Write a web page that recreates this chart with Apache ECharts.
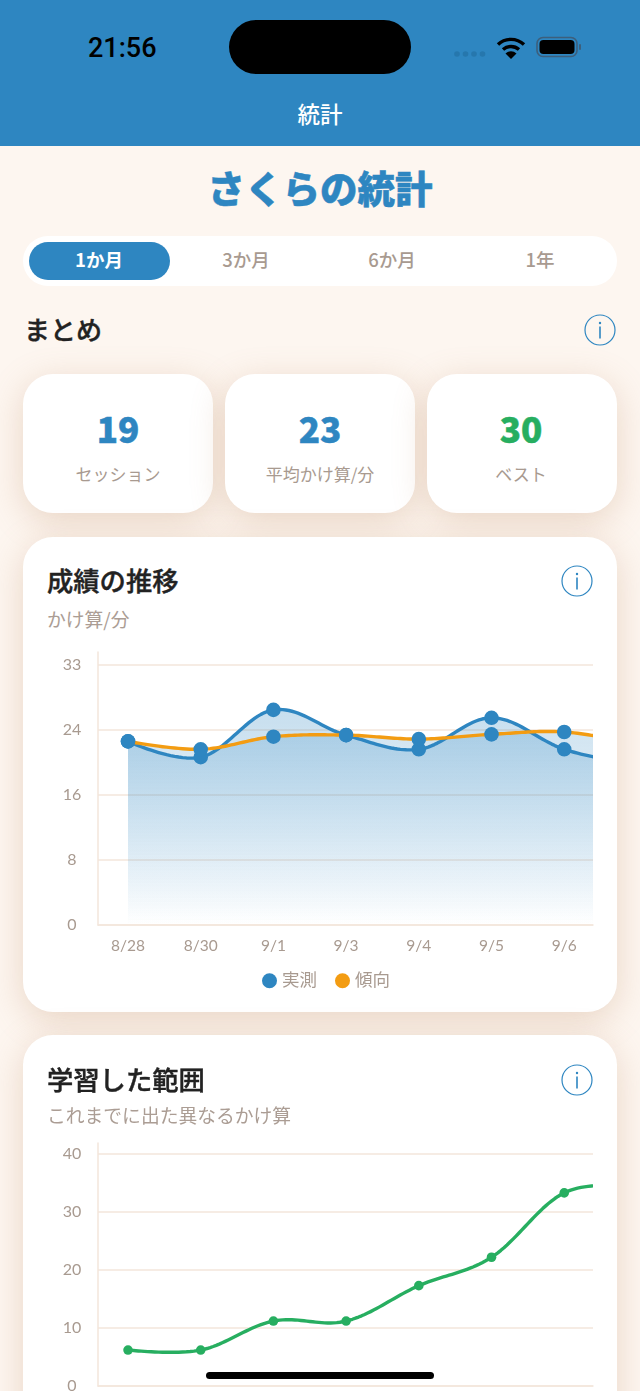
<!DOCTYPE html>
<html lang="ja">
<head>
<meta charset="utf-8">
<title>統計</title>
<script src="https://cdn.jsdelivr.net/npm/echarts@6/dist/echarts.min.js"></script>
<style>
  * { box-sizing: border-box; }
  html, body { margin: 0; padding: 0; }
  body { width: 640px; height: 1391px; overflow: hidden; position: relative; background: #fdf6f0;
    font-family: "Noto Sans CJK JP", sans-serif; color: #222; }
  .abs { position: absolute; white-space: nowrap; }
  .center { transform: translateX(-50%); }
  .header { left: 0; top: 0; width: 640px; height: 146px; background: #2e86c1; }
  .island { left: 229px; top: 20px; width: 182px; height: 54px; border-radius: 27px; background: #000; }
  .time { left: 88px; top: 31px; font: 500 27px/34px Roboto, sans-serif; color: #000; }
  .nav { left: 320px; top: 97px; font-size: 22.5px; line-height: 32px; font-weight: 500; color: #fff; }
  .title { left: 320px; top: 160px; font-size: 37.5px; line-height: 54px; font-weight: 900; color: #2e86c1; -webkit-text-stroke: .5px #2e86c1; }
  .tabs { left: 23px; top: 236px; width: 594px; height: 50px; border-radius: 25px; background: #fff; }
  .tab-on { left: 29px; top: 242px; width: 141px; height: 38px; border-radius: 19px; background: #2e86c1; }
  .tab { top: 246px; font-size: 18.5px; line-height: 26px; font-weight: 500; color: #a89a90; }
  .section { left: 24px; top: 310px; font-size: 26px; line-height: 38px; font-weight: 500; -webkit-text-stroke: .4px #222; }
  .card { background: #fff; border-radius: 30px; box-shadow: 0 8px 34px rgba(190, 140, 100, .3); }
  .num { top: 405px; font: 900 35px/46px "Noto Sans CJK JP", sans-serif; -webkit-text-stroke: .5px currentColor; }
  .lab { top: 461px; font-size: 17px; line-height: 26px; color: #a89a90; }
  .card-title { left: 47px; font-size: 26.3px; line-height: 38px; font-weight: 500; -webkit-text-stroke: .4px #222; }
  .card-sub { left: 47px; font-size: 18.8px; line-height: 28px; font-weight: 400; color: #ab9d94; }
  .chart { left: 0; width: 640px; }
  .home { left: 206px; top: 1372px; width: 228px; height: 7px; border-radius: 4px; background: #000; }
</style>
</head>
<body>
<div class="abs header"></div>
<div class="abs island"></div>
<div class="abs time">21:56</div>
<svg class="abs" style="left:450px;top:34px" width="135" height="28" viewBox="0 0 135 28">
  <g fill="#2677ad"><circle cx="7" cy="20" r="2.8"/><circle cx="15.5" cy="20" r="2.8"/><circle cx="24" cy="20" r="2.8"/><circle cx="32.5" cy="20" r="2.8"/></g>
  <g fill="none" stroke="#000" stroke-width="3.4"><path d="M48 10.5a19 19 0 0 1 26 0"/><path d="M53 15.5a12 12 0 0 1 16 0"/></g>
  <path d="M55.5 19.5a8 8 0 0 1 11 0L61 25z" fill="#000"/>
  <rect x="87" y="3.5" width="40" height="19" rx="6" fill="none" stroke="#3d5f7c" stroke-width="1.6"/>
  <rect x="89.5" y="6" width="35" height="14" rx="4" fill="#000"/>
  <rect x="129" y="10" width="2" height="6" rx="1" fill="#3d5f7c"/>
</svg>
<div class="abs nav center">統計</div>
<div class="abs title center">さくらの統計</div>

<div class="abs tabs"></div>
<div class="abs tab-on"></div>
<div class="abs tab center" style="left:99px;color:#fff;font-weight:700">1か月</div>
<div class="abs tab center" style="left:246px">3か月</div>
<div class="abs tab center" style="left:392px">6か月</div>
<div class="abs tab center" style="left:540px">1年</div>

<div class="abs section">まとめ</div>
<svg class="abs info" style="left:584px;top:314px" width="32" height="32" viewBox="0 0 32 32"><circle cx="16" cy="16" r="15" fill="none" stroke="#2e86c1" stroke-width="1.2"/><circle cx="16" cy="9" r="1.2" fill="#2e86c1"/><rect x="15.2" y="12.5" width="1.6" height="12" fill="#2e86c1"/></svg>

<div class="abs card" style="left:23px;top:374px;width:190px;height:139px"></div>
<div class="abs card" style="left:225px;top:374px;width:190px;height:139px"></div>
<div class="abs card" style="left:427px;top:374px;width:190px;height:139px"></div>
<div class="abs num center" style="left:118px;color:#2e86c1">19</div>
<div class="abs num center" style="left:320px;color:#2e86c1">23</div>
<div class="abs num center" style="left:521px;color:#27ae60">30</div>
<div class="abs lab center" style="left:118px">セッション</div>
<div class="abs lab center" style="left:320px">平均かけ算/分</div>
<div class="abs lab center" style="left:521px">ベスト</div>

<div class="abs card" style="left:23px;top:537px;width:594px;height:475px"></div>
<div class="abs card-title" style="top:561px">成績の推移</div>
<svg class="abs info" style="left:561px;top:565px" width="32" height="32" viewBox="0 0 32 32"><circle cx="16" cy="16" r="15" fill="none" stroke="#2e86c1" stroke-width="1.2"/><circle cx="16" cy="9" r="1.2" fill="#2e86c1"/><rect x="15.2" y="12.5" width="1.6" height="12" fill="#2e86c1"/></svg>
<div class="abs card-sub" style="top:605px">かけ算/分</div>
<div class="abs chart" id="scoreChart" style="top:640px;height:360px"></div>

<div class="abs card" style="left:23px;top:1035px;width:594px;height:420px"></div>
<div class="abs card-title" style="top:1060px">学習した範囲</div>
<svg class="abs info" style="left:561px;top:1064px" width="32" height="32" viewBox="0 0 32 32"><circle cx="16" cy="16" r="15" fill="none" stroke="#2e86c1" stroke-width="1.2"/><circle cx="16" cy="9" r="1.2" fill="#2e86c1"/><rect x="15.2" y="12.5" width="1.6" height="12" fill="#2e86c1"/></svg>
<div class="abs card-sub" style="top:1101px">これまでに出た異なるかけ算</div>
<div class="abs chart" id="rangeChart" style="top:1130px;height:261px"></div>
<div class="abs home"></div>

<script>
const dates = ["8/28", "8/30", "9/1", "9/3", "9/4", "9/5", "9/6"];
// the last point of each series sits just past the clipped right edge
const actual = [23.3, 21.3, 27.3, 24.1, 22.3, 26.3, 22.3, 20.3];
const trend = [23.3, 22.3, 23.9, 24.1, 23.6, 24.2, 24.5, 23.0];
const covered = [6.2, 6.2, 11.2, 11.2, 17.3, 22.2, 33.3, 34.4];
const scoreTicks = [0, 8.25, 16.5, 24.75, 33];
const rangeTicks = [0, 10, 20, 30, 40];

const BLUE = "#2e86c1";
const ORANGE = "#f39c12";
const GREEN = "#27ae60";
const AXIS = "#f3e6db";
const MUTED = "#a89a90";
const FONT = "Lato, 'Noto Sans CJK JP', sans-serif";
const TENSION = 0.175;
const STEPS = 24;

const toPoints = values => values.map((v, i) => [i, v]);

// echarts' own smooth clamps overshoot, the original curve does not
function curve(pts) {
  const out = [pts[0]];
  let cp1 = pts[0];
  for (let i = 1; i < pts.length; i++) {
    const p0 = pts[i - 1];
    const p1 = pts[i];
    const next = pts[Math.min(i + 1, pts.length - 1)];
    const tx = (next[0] - p0[0]) * TENSION;
    const ty = (next[1] - p0[1]) * TENSION;
    const cp2 = [p1[0] - tx, p1[1] - ty];
    for (let s = 1; s <= STEPS; s++) {
      const t = s / STEPS;
      const u = 1 - t;
      out.push([
        u * u * u * p0[0] + 3 * u * u * t * cp1[0] + 3 * u * t * t * cp2[0] + t * t * t * p1[0],
        u * u * u * p0[1] + 3 * u * u * t * cp1[1] + 3 * u * t * t * cp2[1] + t * t * t * p1[1]
      ]);
    }
    cp1 = [p1[0] + tx, p1[1] + ty];
  }
  return out;
}

function lineSeries(name, values, cfg) {
  return {
    name: name,
    type: "custom",
    data: toPoints(values),
    encode: { x: 0, y: 1 },
    itemStyle: { color: cfg.dot },
    renderItem(params, api) {
      // whole line is drawn once, from the first item
      if (params.dataIndex !== 0) return null;
      const pts = values.map((v, i) => api.coord([i, v]));
      const line = curve(pts);
      const box = params.coordSys;
      const children = [];
      if (cfg.fill) {
        const base = api.coord([0, 0])[1];
        children.push({
          type: "polygon",
          shape: { points: line.concat([[pts[pts.length - 1][0], base], [pts[0][0], base]]) },
          style: {
            fill: new echarts.graphic.LinearGradient(0, 0, 0, 1, [
              { offset: 0, color: cfg.fill },
              { offset: 1, color: "rgba(46,134,193,0)" }
            ])
          }
        });
      }
      children.push({
        type: "polyline",
        shape: { points: line },
        style: { fill: null, stroke: cfg.line, lineWidth: 3.4, lineJoin: "round" }
      });
      pts.forEach(p => {
        children.push({
          type: "circle",
          shape: { cx: p[0], cy: p[1], r: cfg.r },
          style: { fill: cfg.dot }
        });
      });
      return {
        type: "group",
        children: children,
        clipPath: { type: "rect", shape: { x: box.x, y: box.y, width: box.width, height: box.height } }
      };
    }
  };
}

function xAxis(showLabels) {
  return {
    type: "value",
    // 8/28 sits 30px right of the y axis, one step is 72.7px
    min: -0.413,
    max: 6.396,
    axisLine: { show: true, onZero: false, lineStyle: { color: AXIS, width: 1.5 } },
    axisTick: { show: false },
    splitLine: { show: false },
    axisLabel: {
      show: showLabels,
      customValues: dates.map((d, i) => i),
      formatter: v => dates[v],
      color: MUTED,
      fontFamily: FONT,
      fontSize: 15.5,
      margin: 13
    }
  };
}

function yAxis(max, ticks) {
  return {
    type: "value",
    min: 0,
    max: max,
    axisLine: { show: true, onZero: false, lineStyle: { color: AXIS, width: 1.5 } },
    axisTick: { show: false, customValues: ticks },
    splitLine: { show: true, lineStyle: { color: AXIS, width: 1.5 } },
    axisLabel: {
      customValues: ticks,
      formatter: v => String(Math.floor(v)),
      align: "center",
      margin: 26,
      color: MUTED,
      fontFamily: FONT,
      fontSize: 16
    }
  };
}

const scoreChart = echarts.init(document.getElementById("scoreChart"));
scoreChart.setOption({
  animation: false,
  grid: { left: 98, right: 47, top: 12, height: 273, outerBoundsMode: "none" },
  xAxis: xAxis(true),
  yAxis: yAxis(34.65, scoreTicks),
  legend: {
    top: 327,
    left: 257,
    icon: "circle",
    itemWidth: 15,
    itemHeight: 15,
    itemGap: 18,
    textStyle: { color: MUTED, fontSize: 17.5, fontFamily: FONT },
    data: [
      { name: "実測", itemStyle: { color: BLUE } },
      { name: "傾向", itemStyle: { color: ORANGE } }
    ]
  },
  series: [
    lineSeries("実測", actual, { line: BLUE, dot: BLUE, r: 7.3, fill: "rgba(46,134,193,0.27)" }),
    lineSeries("傾向", trend, { line: ORANGE, dot: BLUE, r: 7.3, fill: "rgba(46,134,193,0.22)" })
  ]
});

const rangeChart = echarts.init(document.getElementById("rangeChart"));
rangeChart.setOption({
  animation: false,
  grid: { left: 98, right: 47, top: 13, height: 243, outerBoundsMode: "none" },
  xAxis: xAxis(false),
  yAxis: yAxis(41.9, rangeTicks),
  series: [
    lineSeries("範囲", covered, { line: GREEN, dot: GREEN, r: 4.8 })
  ]
});
</script>
</body>
</html>
